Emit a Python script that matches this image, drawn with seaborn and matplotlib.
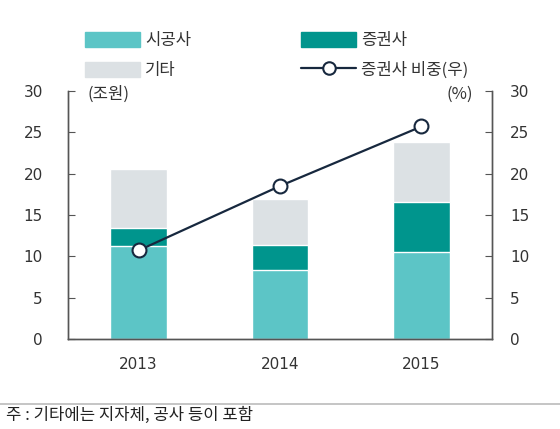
import matplotlib
matplotlib.use("Agg")
import matplotlib.pyplot as plt
from matplotlib.lines import Line2D
from matplotlib.patches import Patch
import seaborn as sns
import pandas as pd

years = ["2013", "2014", "2015"]
builder = [11.2, 8.3, 10.5]      # 시공사
broker = [2.2, 3.1, 6.1]         # 증권사
other = [7.2, 5.5, 7.2]          # 기타
broker_share = [10.7, 18.5, 25.7]  # 증권사 비중(우), %

c_builder = "#5CC5C6"
c_broker = "#00958D"
c_other = "#DCE1E4"
c_line = "#17283E"

sns.set_style("white")
plt.rcParams["font.family"] = ["DejaVu Sans", "Noto Sans CJK KR"]

df = pd.DataFrame({"year": years, "builder": builder, "broker": broker, "other": other})
df["mid"] = df["builder"] + df["broker"]
df["top"] = df["mid"] + df["other"]

fig = plt.figure(figsize=(5.6, 4.29), dpi=100)
ax = fig.add_axes([0.121, 0.21, 0.758, 0.578])

# stacked bars: draw totals first, then overlay lower parts
sns.barplot(data=df, x="year", y="top", color=c_other, width=0.4, saturation=1, ax=ax)
sns.barplot(data=df, x="year", y="mid", color=c_broker, width=0.4, saturation=1, ax=ax)
sns.barplot(data=df, x="year", y="builder", color=c_builder, width=0.4, saturation=1, ax=ax)

ax.set_xlim(-0.5, 2.5)
ax.set_ylim(0, 30)
ax.set_yticks(range(0, 31, 5))
ax.set_xlabel("")
ax.set_ylabel("")
ax.set_xticks([0.5, 1.5], minor=True)
ax.tick_params(axis="x", which="major", length=0, labelsize=11, pad=13, colors="#333333")
ax.tick_params(axis="x", which="minor", direction="in", length=5, color="#555555")
ax.tick_params(axis="y", direction="in", length=5, labelsize=11, pad=18,
               left=True, color="#555555", labelcolor="#333333")

ax2 = ax.twinx()
sns.pointplot(x=years, y=broker_share, color=c_line, markers="o", ax=ax2,
              markersize=10, markerfacecolor="white", markeredgewidth=1.5,
              linewidth=1.6)
ax2.set_xlim(-0.5, 2.5)
ax2.set_ylim(0, 30)
ax2.set_yticks(range(0, 31, 5))
ax2.tick_params(axis="y", direction="in", length=5, labelsize=11, pad=13,
                right=True, color="#555555", labelcolor="#333333")

for a in (ax, ax2):
    a.spines["top"].set_visible(False)
    for s in ("left", "right", "bottom"):
        a.spines[s].set_color("#555555")
        a.spines[s].set_linewidth(1.0)

ax.text(0.047, 0.985, "(조원)", transform=ax.transAxes, fontsize=12,
        family=["Noto Sans CJK KR"], color="#333333", va="center", ha="left")
ax.text(0.955, 0.985, "(%)", transform=ax.transAxes, fontsize=12,
        family=["Noto Sans CJK KR"], color="#333333", va="center", ha="right")

handles = [
    Patch(color=c_builder, label="시공사"),
    Patch(color=c_other, label="기타"),
    Patch(color=c_broker, label="증권사"),
    Line2D([0], [0], color=c_line, lw=1.6, marker="o", markersize=9,
           markerfacecolor="white", markeredgewidth=1.5, label="증권사 비중(우)"),
]
fig.legend(handles=handles, ncol=2, loc="upper left", bbox_to_anchor=(0.125, 0.96),
           frameon=False, prop={"family": "Noto Sans CJK KR", "size": 12},
           handlelength=3.3, handleheight=1.0, handletextpad=0.3,
           columnspacing=6.6, labelspacing=0.75, labelcolor="#333333")

fig.add_artist(Line2D([0, 1], [0.058, 0.058], color="#BBBBBB", lw=1.2,
                      transform=fig.transFigure))
fig.text(0.01, 0.032, "주 : 기타에는 지자체, 공사 등이 포함", fontsize=12,
         family=["Noto Sans CJK KR"], color="#222222", va="center", ha="left")

fig.savefig("out.png", dpi=100)
